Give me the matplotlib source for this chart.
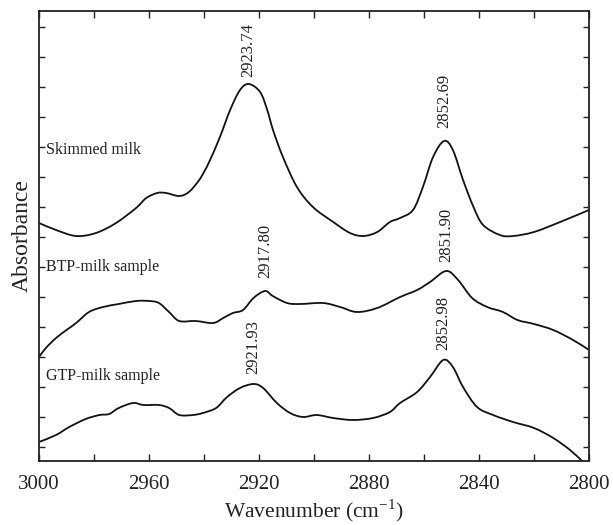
import matplotlib.pyplot as plt
from matplotlib.path import Path
from matplotlib.patches import PathPatch
from matplotlib.ticker import MultipleLocator, NullFormatter

plt.rcParams['font.family'] = 'Liberation Serif'
plt.rcParams['mathtext.fontset'] = 'custom'
plt.rcParams['mathtext.rm'] = 'Liberation Serif'

# spectra (absorbance in arbitrary offset units, as pixel rows)
skim_wn = [3000, 2993.8, 2986.5, 2979.3, 2972, 2964.7, 2961, 2957, 2953.8, 2949, 2945.5, 2942,
           2940, 2937.8, 2934.2, 2930.5, 2926.9, 2923.7, 2919.6, 2917, 2914.9, 2911.3, 2906.2,
           2900.4, 2893, 2886.9, 2882, 2877, 2872.4, 2868.7, 2864, 2860.4, 2856.7, 2852.7,
           2849.5, 2845.8, 2842, 2838.5, 2832.4, 2827.6, 2820, 2810.5, 2800]
skim_px = [223, 230, 236, 233, 223, 208, 198, 193, 193, 196, 192, 181,
           172, 160, 137, 110, 90, 84, 92, 110, 130, 157, 187,
           207, 222, 233, 236, 232, 222, 218, 210, 187, 157, 141,
           150, 180, 207, 225, 235, 236, 232, 222, 210]

btp_wn = [3000, 2997.5, 2993.8, 2990, 2986.5, 2981.8, 2976.7, 2971, 2964.7, 2960, 2956.4, 2952.7,
          2949, 2943, 2936.7, 2933, 2929.5, 2925.8, 2922, 2917.8, 2915, 2909.8, 2905, 2896.7,
          2890.5, 2884.4, 2877, 2868.7, 2862.5, 2857.8, 2851.9, 2847.6, 2842.5, 2837, 2831.3,
          2826, 2820, 2813, 2805.8, 2800]
btp_px = [357, 348, 338, 330, 323, 312, 307, 304, 301, 301, 303, 312,
          321, 321, 323, 318, 313, 310, 298, 291, 296, 303, 304, 303,
          307, 312, 308, 297, 290, 282, 271, 280, 298, 307, 312,
          320, 324, 330, 340, 350]

gtp_wn = [3000, 2993.8, 2989, 2983, 2978, 2974.5, 2971, 2965.8, 2962, 2956.4, 2952.7, 2949,
          2944, 2940.4, 2935.6, 2931.6, 2926.9, 2922, 2918.5, 2913.5, 2908.7, 2904, 2899, 2893,
          2885.8, 2878.5, 2872.4, 2868.7, 2862.5, 2857.8, 2853, 2849.5, 2845.8, 2840.7, 2834.9,
          2827.6, 2820, 2813, 2806.9, 2802.5, 2800]
gtp_px = [442, 435, 427, 419, 415, 414, 408, 403, 405, 405, 408, 415,
          415, 413, 408, 397, 388, 384, 388, 403, 413, 417, 415, 418,
          420, 418, 412, 403, 392, 377, 360, 367, 387, 407, 415,
          422, 428, 438, 450, 461, 467]

names = ['Skimmed milk', 'BTP-milk sample', 'GTP-milk sample']
name_pos = [(2997.5, 311), (2997.5, 194), (2997.5, 85)]
peaks = [(2923.74, '2923.74', 384), (2852.69, '2852.69', 333),
         (2917.80, '2917.80', 183), (2851.90, '2851.90', 199),
         (2921.93, '2921.93', 87), (2852.98, '2852.98', 111)]


def smooth_path(xs, ys):
    # cubic Bezier through the read points (Catmull-Rom tangents)
    pts = list(zip(xs, ys))
    verts = [pts[0]]
    codes = [Path.MOVETO]
    n = len(pts)
    for i in range(n - 1):
        p0 = pts[max(i - 1, 0)]
        p1 = pts[i]
        p2 = pts[i + 1]
        p3 = pts[min(i + 2, n - 1)]
        c1 = (p1[0] + (p2[0] - p0[0]) / 6, p1[1] + (p2[1] - p0[1]) / 6)
        c2 = (p2[0] - (p3[0] - p1[0]) / 6, p2[1] - (p3[1] - p1[1]) / 6)
        verts += [c1, c2, p2]
        codes += [Path.CURVE4] * 3
    return Path(verts, codes)


fig = plt.figure(figsize=(6.13, 5.25), dpi=100)
ax = fig.add_axes([39 / 613, 64 / 525, 550 / 613, 450 / 525])

for wn, px in [(skim_wn, skim_px), (btp_wn, btp_px), (gtp_wn, gtp_px)]:
    absorb = [461 - p for p in px]
    ax.add_patch(PathPatch(smooth_path(wn, absorb), fill=False, edgecolor='#111111', lw=1.3))

for (x, y), name in zip(name_pos, names):
    ax.text(x, y, name, fontsize=11.5, color='#222222', va='center', ha='left')

for x, lab, y in peaks:
    ax.text(x, y, lab, fontsize=12, color='#222222', rotation=90, ha='center', va='bottom')

ax.set_xlim(3000, 2800)
ax.set_ylim(0, 450)
ax.xaxis.set_major_locator(MultipleLocator(40))
ax.xaxis.set_minor_locator(MultipleLocator(20))
ax.set_yticks(range(14, 450, 30))
ax.yaxis.set_major_formatter(NullFormatter())
ax.tick_params(which='both', direction='in', top=True, right=True, length=5, width=1,
               labelsize=15, colors='#222222', pad=10)
ax.tick_params(axis='y', length=4)
for s in ax.spines.values():
    s.set_linewidth(1.3)
    s.set_color('#222222')

ax.set_xlabel('Wavenumber (cm$^{-1}$)', fontsize=15.5, color='#222222')
ax.xaxis.set_label_coords(0.5, -0.08)
ax.set_ylabel('Absorbance', fontsize=17, color='#222222')
ax.yaxis.set_label_coords(-0.012, 0.5)

fig.savefig('out.png', dpi=100)
